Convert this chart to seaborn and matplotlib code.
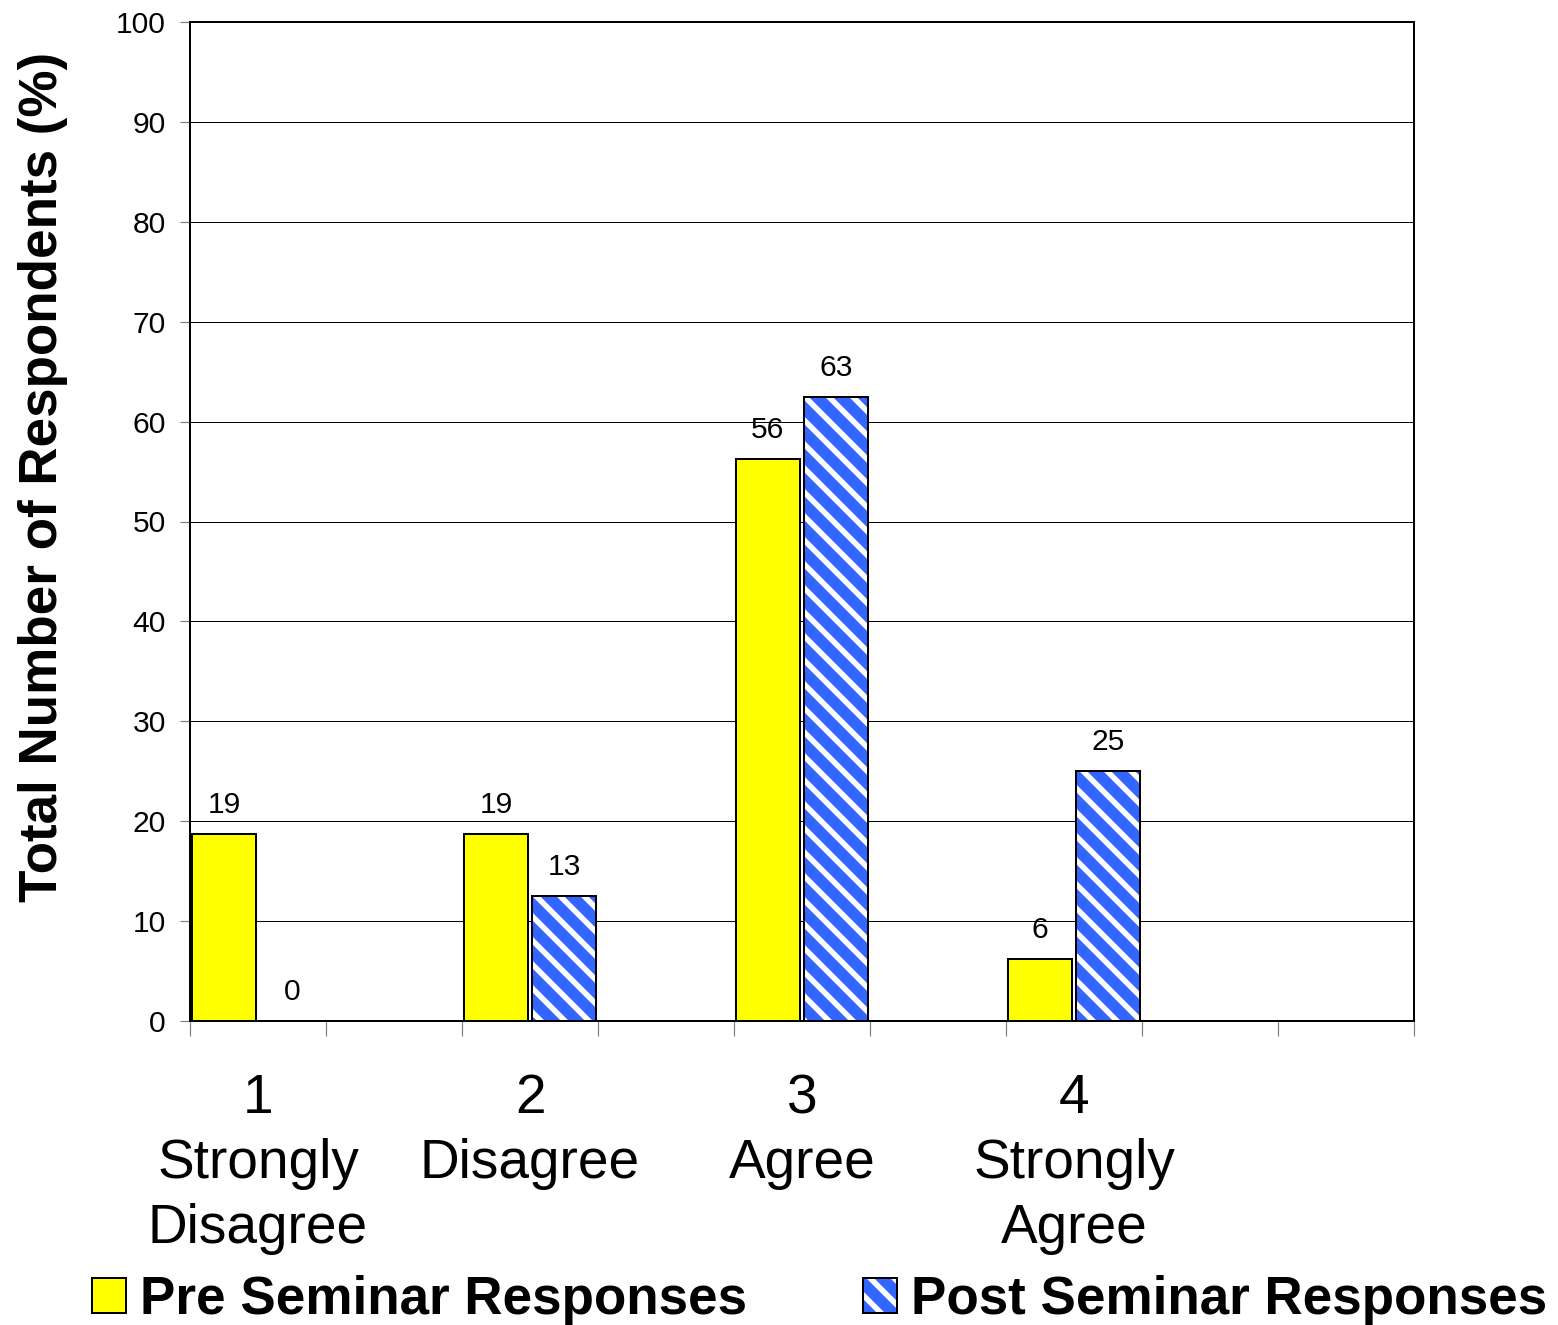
import matplotlib
matplotlib.use("Agg")
import matplotlib.pyplot as plt
import matplotlib.patches as mpatches
import seaborn as sns
import pandas as pd

# data (percent of 16 respondents)
categories = ["1", "2", "3", "4"]
tick_labels = ["1\nStrongly\nDisagree", "2\nDisagree", "3\nAgree", "4\nStrongly\nAgree"]
pre_pct = [18.75, 18.75, 56.25, 6.25]
post_pct = [0.0, 12.5, 62.5, 25.0]
series = ["Pre Seminar Responses", "Post Seminar Responses"]
# the original chart has empty slots between the answer groups
slot_order = ["1", "e1", "2", "e2", "3", "e3", "4", "e4", "e5"]

df = pd.DataFrame({
    "answer": categories * 2,
    "pct": pre_pct + post_pct,
    "series": [series[0]] * 4 + [series[1]] * 4,
})

sns.set_style("white")
plt.rcParams["font.family"] = ["Liberation Sans", "DejaVu Sans"]
plt.rcParams["text.color"] = "black"
plt.rcParams["axes.labelcolor"] = "black"
plt.rcParams["xtick.labelcolor"] = "black"
plt.rcParams["ytick.labelcolor"] = "black"
plt.rcParams["hatch.linewidth"] = 5.5

DPI = 72
fig = plt.figure(figsize=(1558 / DPI, 1325 / DPI), dpi=DPI)
ax = fig.add_axes([190 / 1558, 1 - 1021 / 1325, 1224 / 1558, 999 / 1325])

yellow = "#FFFF00"
blue = "#3366FF"
sns.barplot(data=df, x="answer", y="pct", hue="series", order=slot_order,
            hue_order=series, palette=[yellow, blue], saturation=1,
            width=1.0, gap=0.05, errorbar=None, edgecolor="black",
            linewidth=2, legend=False, ax=ax)

# blue bars: white diagonal stripes
for p in ax.containers[1]:
    p.set_hatch("\\")
    p._hatch_color = (1, 1, 1, 1)

for cont in ax.containers:
    ax.bar_label(cont, fmt=lambda v: f"{int(v + 0.5)}", padding=15,
                 fontsize=30, color="black")

ax.set_ylim(0, 100)
ax.set_xlim(-0.5, 8.5)
ax.set_yticks(range(0, 101, 10))
ax.yaxis.grid(True, color="black", linewidth=1)
ax.set_axisbelow(True)
ax.tick_params(axis="y", labelsize=30, length=10, width=1.2, color="gray",
               left=True, pad=14)

ax.set_xticks([0, 2, 4, 6])
ax.set_xticklabels(tick_labels, fontsize=55, linespacing=1.32)
ax.tick_params(axis="x", which="major", length=0, pad=52)
ax.set_xticks([x - 0.5 for x in range(10)], minor=True)
ax.tick_params(axis="x", which="minor", length=15, width=1.2, color="gray",
               bottom=True, direction="out")
ax.set_xlabel("")

for s in ax.spines.values():
    s.set_visible(True)
    s.set_color("black")
    s.set_linewidth(2)

ax.set_ylabel("Total Number of Respondents (%)", fontsize=53, fontweight="bold")
ax.yaxis.set_label_coords(-0.1, 0.5445)

h_pre = mpatches.Patch(facecolor=yellow, edgecolor="black", linewidth=2)
h_post = mpatches.Patch(facecolor=blue, edgecolor="black", linewidth=2, hatch="\\")
h_post._hatch_color = (1, 1, 1, 1)
fig.legend([h_pre, h_post], series, loc="center left",
           bbox_to_anchor=(92 / 1558, 25 / 1325), ncol=2, frameon=False,
           prop={"size": 53, "weight": "bold"}, handlelength=0.64,
           handleheight=0.64, handletextpad=0.26, columnspacing=2.2,
           borderpad=0, borderaxespad=0)

fig.savefig("out.png", dpi=DPI)
